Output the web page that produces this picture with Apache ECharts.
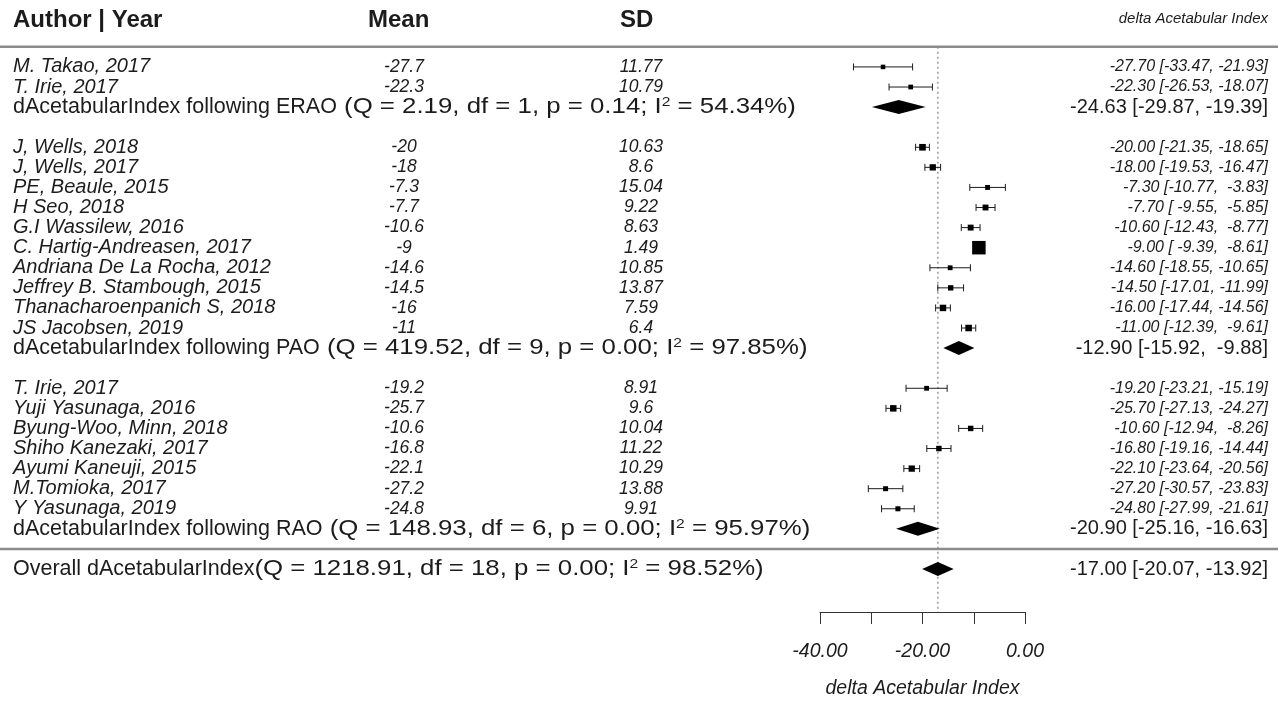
<!DOCTYPE html>
<html>
<head>
<meta charset="utf-8">
<script src="https://cdn.jsdelivr.net/npm/echarts@6/dist/echarts.min.js"></script>
<style>
  html, body { margin: 0; padding: 0; background: #fff; }
  #chart { width: 1278px; height: 704px; }
</style>
</head>
<body>
<div id="chart"></div>
<script>
// ---- study-level data ----
const studyLabels = [
  'M. Takao, 2017', 'T. Irie, 2017',
  'J, Wells, 2018', 'J, Wells, 2017', 'PE, Beaule, 2015', 'H Seo, 2018',
  'G.I Wassilew, 2016', 'C. Hartig-Andreasen, 2017', 'Andriana De La Rocha, 2012',
  'Jeffrey B. Stambough, 2015', 'Thanacharoenpanich S, 2018', 'JS Jacobsen, 2019',
  'T. Irie, 2017', 'Yuji Yasunaga, 2016', 'Byung-Woo, Minn, 2018', 'Shiho Kanezaki, 2017',
  'Ayumi Kaneuji, 2015', 'M.Tomioka, 2017', 'Y Yasunaga, 2019'
];
const studyGroup = [
  'ERAO', 'ERAO',
  'PAO', 'PAO', 'PAO', 'PAO', 'PAO', 'PAO', 'PAO', 'PAO', 'PAO', 'PAO',
  'RAO', 'RAO', 'RAO', 'RAO', 'RAO', 'RAO', 'RAO'
];
const meanText = ['-27.7', '-22.3', '-20', '-18', '-7.3', '-7.7', '-10.6', '-9', '-14.6', '-14.5',
  '-16', '-11', '-19.2', '-25.7', '-10.6', '-16.8', '-22.1', '-27.2', '-24.8'];
const sdText = ['11.77', '10.79', '10.63', '8.6', '15.04', '9.22', '8.63', '1.49', '10.85', '13.87',
  '7.59', '6.4', '8.91', '9.6', '10.04', '11.22', '10.29', '13.88', '9.91'];
const estimate = [-27.70, -22.30, -20.00, -18.00, -7.30, -7.70, -10.60, -9.00, -14.60, -14.50,
  -16.00, -11.00, -19.20, -25.70, -10.60, -16.80, -22.10, -27.20, -24.80];
const ciLow = [-33.47, -26.53, -21.35, -19.53, -10.77, -9.55, -12.43, -9.39, -18.55, -17.01,
  -17.44, -12.39, -23.21, -27.13, -12.94, -19.16, -23.64, -30.57, -27.99];
const ciHigh = [-21.93, -18.07, -18.65, -16.47, -3.83, -5.85, -8.77, -8.61, -10.65, -11.99,
  -14.56, -9.61, -15.19, -24.27, -8.26, -14.44, -20.56, -23.83, -21.61];

// ---- subgroup and overall pooled estimates ----
const groupNames = ['ERAO', 'PAO', 'RAO'];
const groupEst = [-24.63, -12.90, -20.90];
const groupLow = [-29.87, -15.92, -25.16];
const groupHigh = [-19.39, -9.88, -16.63];
const groupQ = ['2.19', '419.52', '148.93'];
const groupDf = [1, 9, 6];
const groupP = ['0.14', '0.00', '0.00'];
const groupI2 = ['54.34', '97.85', '95.97'];

const overallEst = -17.00, overallLow = -20.07, overallHigh = -13.92;
const overallQ = '1218.91', overallDf = 18, overallP = '0.00', overallI2 = '98.52';

// ---- axis ticks ----
const xMin = -40, xMax = 0, xStep = 10;
const xLabelled = [-40, -20, 0];

// ---- layout: assign row numbers (top to bottom) ----
const studyRows = [];
const groupRows = [];
let row = 0;
groupNames.forEach(function (g, gi) {
  studyGroup.forEach(function (sg, i) { if (sg === g) studyRows[i] = row++; });
  groupRows[gi] = row++;
  row++; // gap between subgroups
});
const bottomRuleRow = row - 1;
const overallRow = row;
const topRuleRow = -1;
const axisRow = 27.14;

// ---- fonts & colours ----
const FAM = '"Liberation Sans", Arial, Helvetica, sans-serif';
const INK = '#1c1c1c';
const labelFont = 'italic 20px ' + FAM;
const valueFont = 'italic 17.5px ' + FAM;
const ciFont = 'italic 16px ' + FAM;
const SUM_SIZE = 21.5;
const sumFont = SUM_SIZE + 'px ' + FAM;
const sumCiFont = '20px ' + FAM;
const headFont = 'bold 24px ' + FAM;
const STAT_STRETCH = 1.2;

const COL_LABEL = 13, COL_MEAN = 404, COL_SD = 641, COL_RIGHT = 1268;

const measureCtx = document.createElement('canvas').getContext('2d');
function textWidth(s, font) { measureCtx.font = font; return measureCtx.measureText(s).width; }

function fmt(v) { return v.toFixed(2); }
function pad(s) { return s.length < 6 ? ' '.repeat(6 - s.length) + s : s; }
function ciText(e, l, h) { return fmt(e) + ' [' + pad(fmt(l)) + ', ' + pad(fmt(h)) + ']'; }
function statText(q, df, p, i2) {
  return '(Q = ' + q + ', df = ' + df + ', p = ' + p + '; I{sup|2} = ' + i2 + '%)';
}

// marker sizes scale with precision (1/SE), 0.5..1.5 of a base size
const se = ciLow.map(function (l, i) { return (ciHigh[i] - l) / (2 * 1.96); });
const prec = se.map(function (s) { return 1 / s; });
const pMin = Math.min.apply(null, prec), pMax = Math.max.apply(null, prec);
const psize = prec.map(function (p) { return 0.5 + (p - pMin) / (pMax - pMin); });

const studyData = estimate.map(function (e, i) { return [e, ciLow[i], ciHigh[i], studyRows[i], i]; });
const groupData = groupEst.map(function (e, i) { return [e, groupLow[i], groupHigh[i], groupRows[i], i]; });
const overallData = [[overallEst, overallLow, overallHigh, overallRow, -1]];

function txt(text, x, y, font, align) {
  return { type: 'text', silent: true, style: { text: text, x: x, y: y, font: font, fill: INK, align: align, verticalAlign: 'middle' } };
}

function renderStudy(params, api) {
  const i = api.value(4);
  const r = api.value(3);
  const pE = api.coord([api.value(0), r]);
  const xL = api.coord([api.value(1), r])[0];
  const xH = api.coord([api.value(2), r])[0];
  const y = pE[1];
  const s = 9 * psize[i];
  const st = { stroke: INK, lineWidth: 1 };
  return {
    type: 'group',
    children: [
      { type: 'line', shape: { x1: xL, y1: y, x2: xH, y2: y }, style: st },
      { type: 'line', shape: { x1: xL, y1: y - 3.5, x2: xL, y2: y + 3.5 }, style: st },
      { type: 'line', shape: { x1: xH, y1: y - 3.5, x2: xH, y2: y + 3.5 }, style: st },
      { type: 'rect', shape: { x: pE[0] - s / 2, y: y - s / 2, width: s, height: s }, style: { fill: '#000' } },
      txt(studyLabels[i], COL_LABEL, y, labelFont, 'left'),
      txt(meanText[i], COL_MEAN, y, valueFont, 'center'),
      txt(sdText[i], COL_SD, y, valueFont, 'center'),
      txt(ciText(estimate[i], ciLow[i], ciHigh[i]), COL_RIGHT, y, ciFont, 'right')
    ]
  };
}

function renderPooled(params, api) {
  const i = api.value(4);
  const r = api.value(3);
  const pE = api.coord([api.value(0), r]);
  const xL = api.coord([api.value(1), r])[0];
  const xH = api.coord([api.value(2), r])[0];
  const y = pE[1];
  const h = 7;
  let head, stats, ci, gap;
  if (i < 0) {
    head = 'Overall dAcetabularIndex';
    stats = statText(overallQ, overallDf, overallP, overallI2);
    ci = ciText(overallEst, overallLow, overallHigh);
    gap = 0;
  } else {
    head = 'dAcetabularIndex following ' + groupNames[i];
    stats = statText(groupQ[i], groupDf[i], groupP[i], groupI2[i]);
    ci = ciText(groupEst[i], groupLow[i], groupHigh[i]);
    gap = textWidth(' ', sumFont) * STAT_STRETCH;
  }
  const statX = COL_LABEL + textWidth(head, sumFont) + gap;
  return {
    type: 'group',
    children: [
      { type: 'polygon', shape: { points: [[xL, y], [pE[0], y - h], [xH, y], [pE[0], y + h]] }, style: { fill: '#000' } },
      txt(head, COL_LABEL, y, sumFont, 'left'),
      {
        type: 'text', silent: true, x: statX, y: y, scaleX: STAT_STRETCH,
        style: {
          text: stats, x: 0, y: 0, fill: INK, fontSize: SUM_SIZE, fontFamily: FAM,
          align: 'left', verticalAlign: 'middle',
          rich: { sup: { fontSize: 13, fontFamily: FAM, fill: INK, verticalAlign: 'top' } }
        }
      },
      txt(ci, COL_RIGHT, y, sumCiFont, 'right')
    ]
  };
}

function renderRule(params, api) {
  const y = api.coord([0, api.value(0)])[1];
  return { type: 'line', silent: true, shape: { x1: 0, y1: y, x2: api.getWidth(), y2: y }, style: { stroke: '#8c8c8c', lineWidth: 2.5 } };
}

const chart = echarts.init(document.getElementById('chart'), null, { renderer: 'canvas' });
chart.setOption({
  animation: false,
  backgroundColor: '#fff',
  grid: { left: 820, right: 253, top: 46.85, bottom: 81.7, containLabel: false },
  xAxis: {
    type: 'value', min: xMin, max: xMax, interval: xStep,
    splitLine: { show: false },
    axisLine: { show: true, onZero: false, lineStyle: { color: '#333', width: 1 } },
    axisTick: { show: true, length: 12, lineStyle: { color: '#333', width: 1 } },
    axisLabel: {
      margin: 30, color: INK, fontStyle: 'italic', fontSize: 19.5, fontFamily: FAM,
      formatter: function (v) { return xLabelled.indexOf(v) >= 0 ? v.toFixed(2) : ''; }
    },
    name: 'delta Acetabular Index', nameLocation: 'middle', nameGap: 67,
    nameTextStyle: { color: INK, fontStyle: 'italic', fontSize: 19.5, fontFamily: FAM }
  },
  yAxis: { type: 'value', inverse: true, min: topRuleRow, max: axisRow, show: false },
  graphic: [
    { type: 'text', left: 13, top: 8, style: { text: 'Author | Year', font: headFont, fill: INK } },
    { type: 'text', left: 368, top: 8, style: { text: 'Mean', font: headFont, fill: INK } },
    { type: 'text', left: 620, top: 8, style: { text: 'SD', font: headFont, fill: INK } },
    { type: 'text', right: 10, top: 11, style: { text: 'delta Acetabular Index', font: 'italic 15px ' + FAM, fill: INK } }
  ],
  series: [
    {
      type: 'line', data: [[overallEst, topRuleRow], [overallEst, axisRow]], symbol: 'none',
      lineStyle: { color: '#999', width: 1.5, type: [2, 3] }, silent: true, z: 1
    },
    { type: 'custom', data: [[topRuleRow], [bottomRuleRow]], renderItem: renderRule, encode: { y: 0 }, z: 2, silent: true },
    { type: 'custom', data: studyData, renderItem: renderStudy, encode: { x: [0, 1, 2], y: 3 }, z: 3, silent: true },
    { type: 'custom', data: groupData.concat(overallData), renderItem: renderPooled, encode: { x: [0, 1, 2], y: 3 }, z: 3, silent: true }
  ]
});
</script>
</body>
</html>
